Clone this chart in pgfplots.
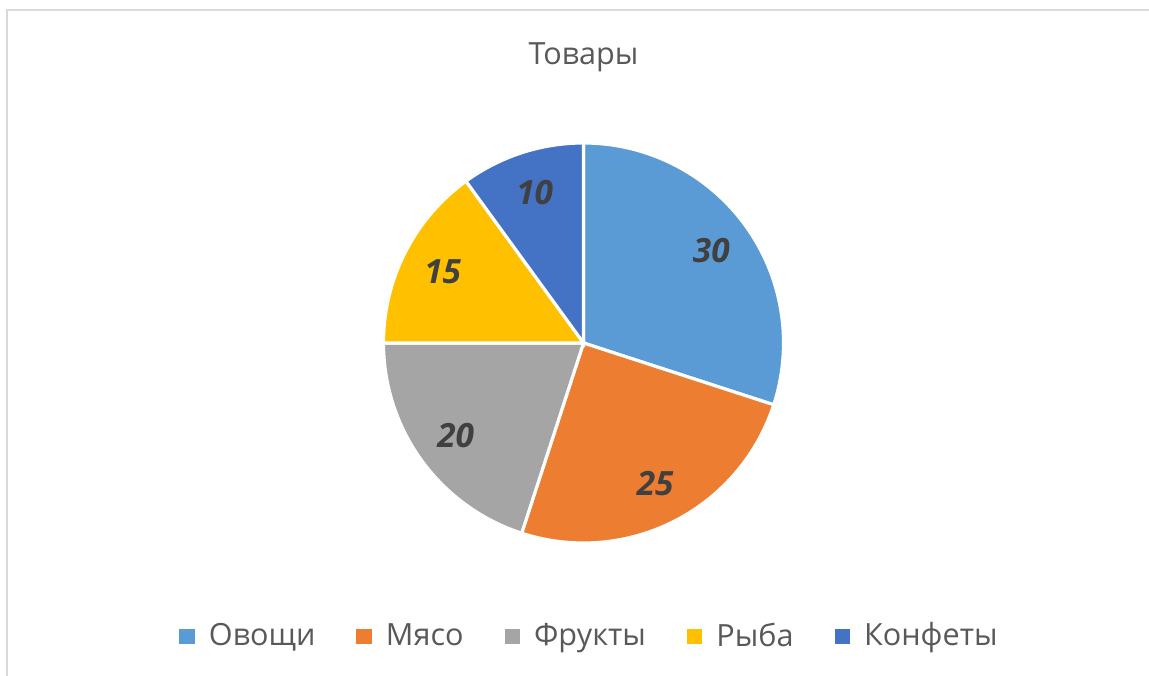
\documentclass[border=0pt]{standalone}
\usepackage{pgfplots}
\pgfplotsset{compat=1.18}
\usepackage{fontspec}
\setmainfont{Open Sans}
\definecolor{cA}{HTML}{5B9BD5}
\definecolor{cB}{HTML}{ED7D31}
\definecolor{cC}{HTML}{A5A5A5}
\definecolor{cD}{HTML}{FFC000}
\definecolor{cE}{HTML}{4472C4}
\definecolor{txt}{HTML}{595959}
\definecolor{lab}{HTML}{404040}
\definecolor{frame}{HTML}{D9D9D9}
% data
\def\vA{30}\def\vB{25}\def\vC{20}\def\vD{15}\def\vE{10}
\pgfmathsetmacro\aA{90}
\pgfmathsetmacro\aB{\aA-3.6*\vA}
\pgfmathsetmacro\aC{\aB-3.6*\vB}
\pgfmathsetmacro\aD{\aC-3.6*\vC}
\pgfmathsetmacro\aE{\aD-3.6*\vD}
\pgfmathsetmacro\aF{\aE-3.6*\vE}
\pgfmathsetmacro\mA{(\aA+\aB)/2}
\pgfmathsetmacro\mB{(\aB+\aC)/2}
\pgfmathsetmacro\mC{(\aC+\aD)/2}
\pgfmathsetmacro\mD{(\aD+\aE)/2}
\pgfmathsetmacro\mE{(\aE+\aF)/2}
\begin{document}
\begin{tikzpicture}
\useasboundingbox (0,0) rectangle (11.49,6.76);
\fill[white] (0,0) rectangle (11.49,6.76);
\draw[frame, line width=0.02cm] (0.07,0) -- (0.07,6.66) -- (11.49,6.66);
\begin{axis}[
  x=2cm, y=2cm, xmin=-1, xmax=1, ymin=-1, ymax=1,
  hide axis, clip=false,
  at={(3.835cm,1.33cm)}, anchor=south west,
  legend columns=5,
  legend style={at={(axis cs:0.025,-1.47)}, anchor=center, draw=none, fill=none,
    font=\fontsize{8.7pt}{10pt}\selectfont, text=txt,
    /tikz/every odd column/.append style={column sep=0.14cm},
    /tikz/every even column/.append style={column sep=0.41cm},
    nodes={inner xsep=0pt}},
  legend image code/.code={\fill[#1,draw=none] (0cm,-0.075cm) rectangle (0.155cm,0.075cm);},
  every axis plot/.append style={draw=white, line width=0.9pt, samples=73, variable=\t},
]
\addplot[fill=cA, domain=\aB:\aA] ({cos(t)},{sin(t)}) -- (axis cs:0,0) -- cycle;
\addlegendentry{Овощи}
\addplot[fill=cB, domain=\aC:\aB] ({cos(t)},{sin(t)}) -- (axis cs:0,0) -- cycle;
\addlegendentry{Мясо}
\addplot[fill=cC, domain=\aD:\aC] ({cos(t)},{sin(t)}) -- (axis cs:0,0) -- cycle;
\addlegendentry{Фрукты}
\addplot[fill=cD, domain=\aE:\aD] ({cos(t)},{sin(t)}) -- (axis cs:0,0) -- cycle;
\addlegendentry{Рыба}
\addplot[fill=cE, domain=\aF:\aE] ({cos(t)},{sin(t)}) -- (axis cs:0,0) -- cycle;
\addlegendentry{Конфеты}
\node[text=lab, font=\fontsize{9.5pt}{11pt}\selectfont\bfseries\itshape] at (axis cs:{0.79*cos(\mA)},{0.79*sin(\mA)}) {\vA};
\node[text=lab, font=\fontsize{9.5pt}{11pt}\selectfont\bfseries\itshape] at (axis cs:{0.79*cos(\mB)},{0.79*sin(\mB)}) {\vB};
\node[text=lab, font=\fontsize{9.5pt}{11pt}\selectfont\bfseries\itshape] at (axis cs:{0.79*cos(\mC)},{0.79*sin(\mC)}) {\vC};
\node[text=lab, font=\fontsize{9.5pt}{11pt}\selectfont\bfseries\itshape] at (axis cs:{0.79*cos(\mD)},{0.79*sin(\mD)}) {\vD};
\node[text=lab, font=\fontsize{9.5pt}{11pt}\selectfont\bfseries\itshape] at (axis cs:{0.79*cos(\mE)},{0.79*sin(\mE)}) {\vE};
\node[anchor=base, text=txt, font=\fontsize{8.7pt}{10pt}\selectfont] at (axis cs:0,1.39) {Товары};
\end{axis}
\end{tikzpicture}
\end{document}
